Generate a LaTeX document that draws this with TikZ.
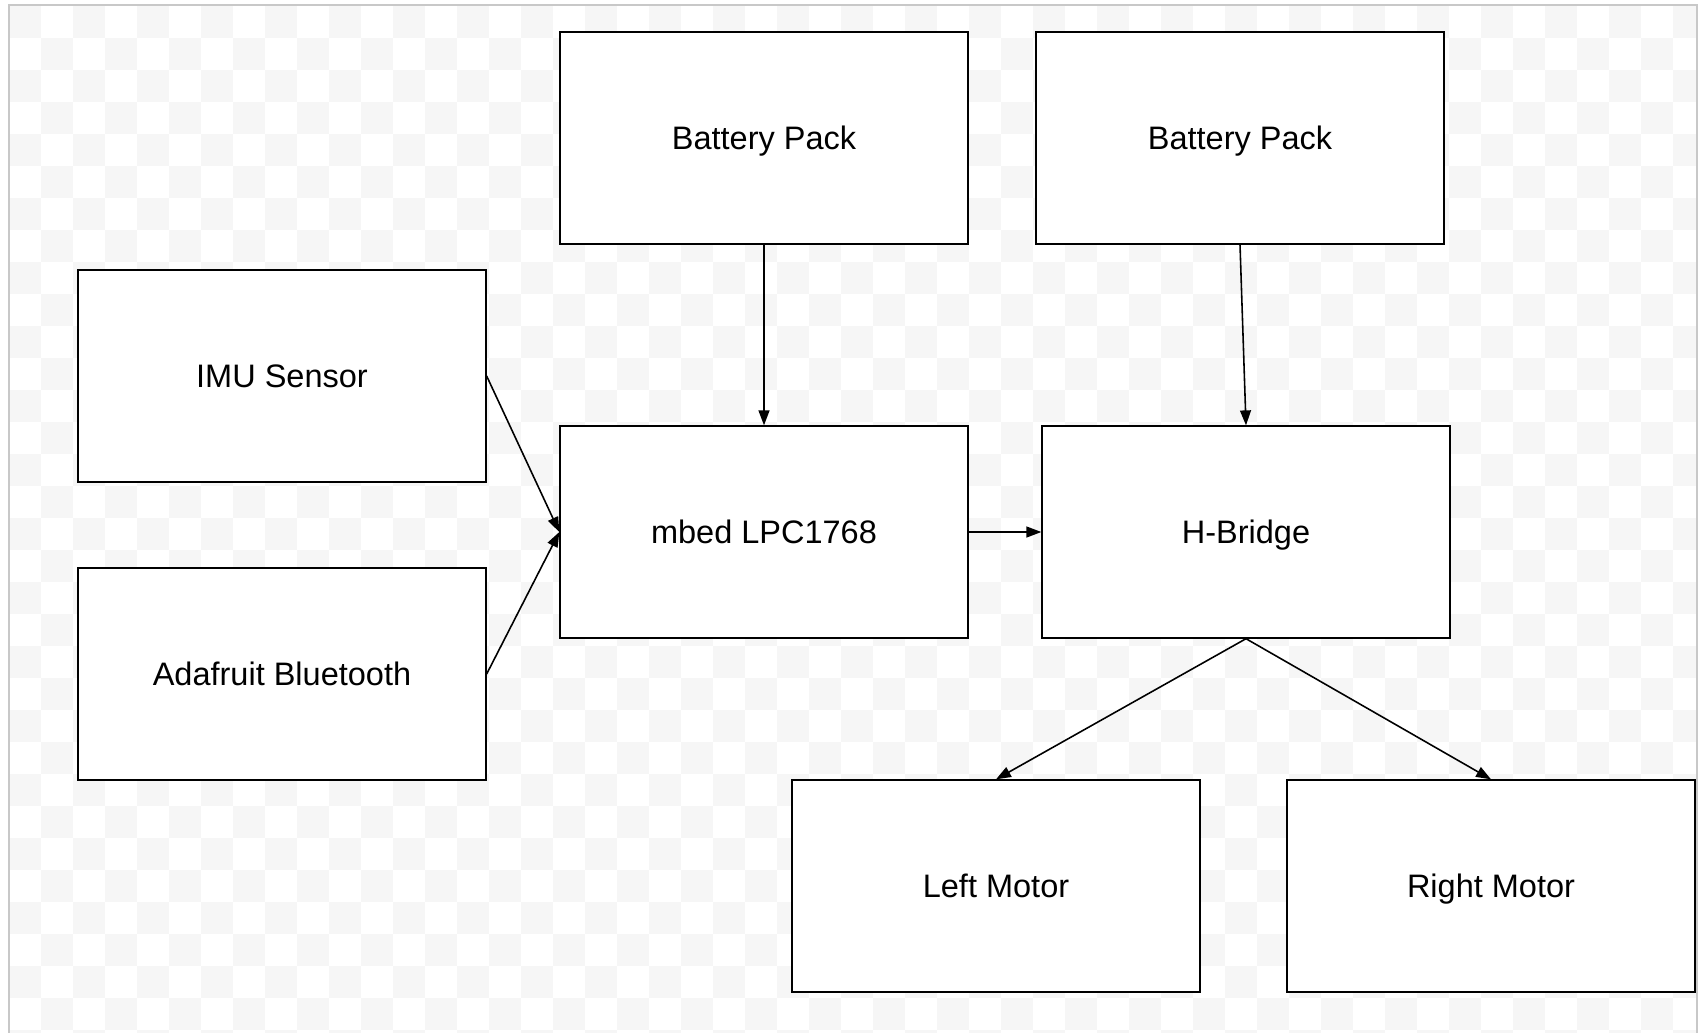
\documentclass[tikz,border=0pt]{standalone}
\usepackage{fontspec}
\setmainfont{Liberation Sans}
\usetikzlibrary{arrows.meta,positioning}
\definecolor{checker}{HTML}{F6F6F6}
\definecolor{frame}{HTML}{C8C8C8}

\begin{document}
\begin{tikzpicture}[x=0.02cm,y=-0.02cm,->,>={Triangle[length=8.5pt,width=6.2pt]},
            block/.style={draw,thick,fill=white,minimum width=8.16cm,
            minimum height=4.24cm,text depth=0pt,font=\fontsize{18.5}{22}\selectfont},
            line width=0.9pt]

          \useasboundingbox (0,0) rectangle (1706,1032);

          % background
          \begin{scope}[-]
            \clip (9,6) rectangle (1697,1032);
            \foreach \i in {0,...,52}
              \foreach \j in {0,...,32}{
                \pgfmathtruncatemacro\chk{mod(\i+\j,2)}
                \ifnum\chk=0
                  \fill[checker] (9+32*\i,6+32*\j) rectangle +(32,32);
                \fi}
          \end{scope}
          \draw[-,frame,line width=1.2pt] (9,1040) -- (9,5) -- (1697,5) -- (1697,1040);

          \node[block] (bat1)  at ( 764, 138) {Battery Pack};
          \node[block] (bat2)  at (1240, 138) {Battery Pack};
          \node[block] (imu)   at ( 282, 376) {IMU Sensor};
          \node[block] (ble)   at ( 282, 674) {Adafruit Bluetooth};
          \node[block] (mbed)  at ( 764, 532) {mbed LPC1768};
          \node[block] (hbr)   at (1246, 532) {H-Bridge};
          \node[block] (lmot)  at ( 996, 886) {Left Motor};
          \node[block] (rmot)  at (1491, 886) {Right Motor};

          \path (bat1) edge (mbed)
                (bat2.south) edge (hbr.north)
                (imu.east) edge (mbed.west)
                (ble.east) edge (mbed.west)
                (mbed) edge (hbr)
                (hbr.south) edge (lmot.north)
                            edge (rmot.north);
        \end{tikzpicture}
\end{document}
